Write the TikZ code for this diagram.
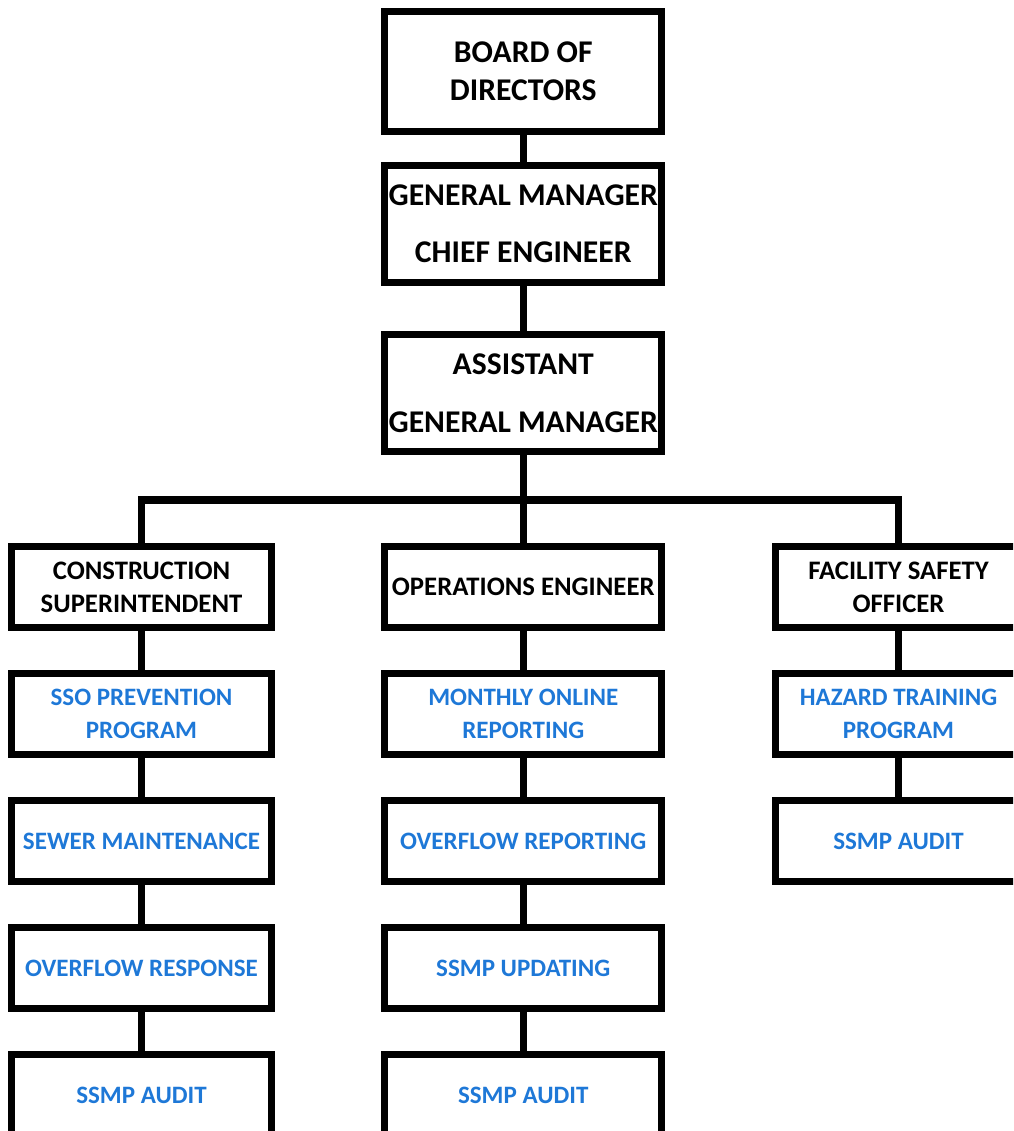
\documentclass[tikz,border=0pt]{standalone}
\usepackage{fontspec}
\setmainfont{Carlito}
\usetikzlibrary{positioning}
\definecolor{taskblue}{RGB}{30,120,215}

\begin{document}
\begin{tikzpicture}[x=0.025cm,y=-0.025cm,line width=5pt,node distance=1.15cm,
                    every text node part/.style={align=flush center}]
  \tikzstyle{every node}=[draw,outer sep=0pt,inner sep=0pt]
  \tikzstyle{head}=[text width=6.9125cm,minimum height=2.9125cm,
                    font=\bfseries\fontsize{22.5}{27}\selectfont]
  \tikzstyle{role}=[minimum height=2.025cm,font=\bfseries\fontsize{19}{23.5}\selectfont]
  \tikzstyle{task}=[role,text=taskblue,font=\bfseries\fontsize{17.8}{23}\selectfont]
  \tikzstyle{lcol}=[text width=6.5cm]
  \tikzstyle{mcol}=[text width=6.9125cm]
  \tikzstyle{rcol}=[text width=6.15cm]

  \useasboundingbox (0,0) rectangle (1013,1131);
  \clip (0,0) rectangle (1013,1131);

  \node[head,minimum height=3cm] (board) at (523.25,71.5) {BOARD OF\\DIRECTORS};
  \node[head] (gm)  at (523.25,223.75) {GENERAL MANAGER\\[14pt]CHIEF ENGINEER};
  \node[head] (agm) at (523.25,393)    {ASSISTANT\\[14pt]GENERAL MANAGER};

  \node[role,lcol] (con) at (141.5,587) {CONSTRUCTION\\SUPERINTENDENT};
  \node[task,lcol] (sso)     [below=of con]     {SSO PREVENTION\\PROGRAM};
  \node[task,lcol] (sewer)   [below=of sso]     {SEWER MAINTENANCE};
  \node[task,lcol] (resp)    [below=of sewer]   {OVERFLOW RESPONSE};
  \node[task,lcol] (auditl)  [below=of resp]    {SSMP AUDIT};

  \node[role,mcol] (ops) at (523.25,587) {OPERATIONS ENGINEER};
  \node[task,mcol] (monthly) [below=of ops]     {MONTHLY ONLINE\\REPORTING};
  \node[task,mcol] (report)  [below=of monthly] {OVERFLOW REPORTING};
  \node[task,mcol] (update)  [below=of report]  {SSMP UPDATING};
  \node[task,mcol] (auditm)  [below=of update]  {SSMP AUDIT};

  \node[role,rcol] (fso) at (898.5,587) {FACILITY SAFETY\\OFFICER};
  \node[task,rcol] (hazard)  [below=of fso]     {HAZARD TRAINING\\PROGRAM};
  \node[task,rcol] (auditr)  [below=of hazard]  {SSMP AUDIT};

  \coordinate (bus) at (523.25,500);

  \draw (board) -- (gm);
  \draw (gm) -- (agm);
  \draw (agm) -- (ops);
  \draw (con.north) -- (con.north |- bus) -- (fso.north |- bus) -- (fso.north);
  \draw (con) -- (sso);
  \draw (sso) -- (sewer);
  \draw (sewer) -- (resp);
  \draw (resp) -- (auditl);
  \draw (ops) -- (monthly);
  \draw (monthly) -- (report);
  \draw (report) -- (update);
  \draw (update) -- (auditm);
  \draw (fso) -- (hazard);
  \draw (hazard) -- (auditr);
\end{tikzpicture}
\end{document}
